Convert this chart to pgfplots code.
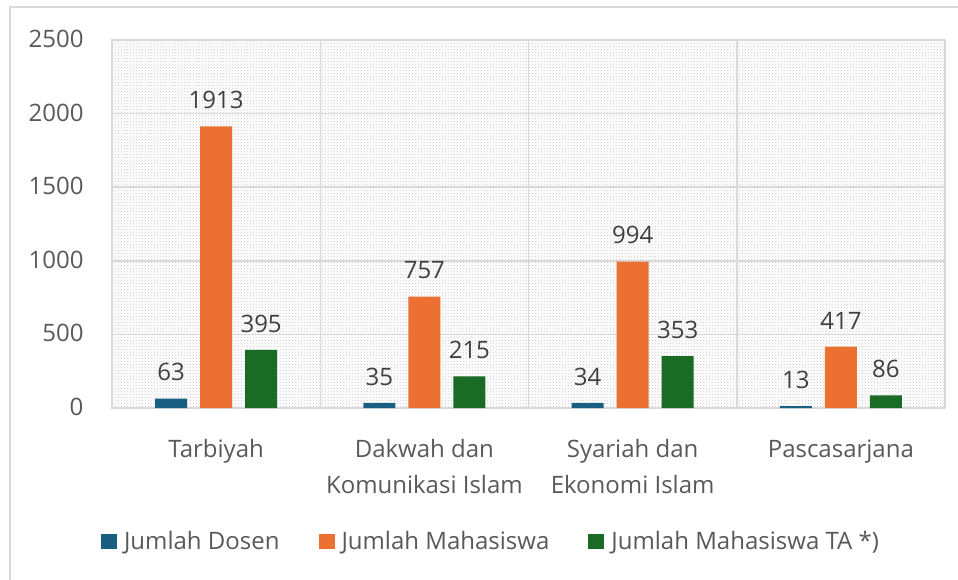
\documentclass[border=0pt]{standalone}
\usepackage{pgfplots}
\pgfplotsset{compat=1.18}
\usepackage{fontspec}
\setmainfont{Open Sans}
\usetikzlibrary{patterns}
\definecolor{cblue}{HTML}{185F82}
\definecolor{corange}{HTML}{EB7032}
\definecolor{cgreen}{HTML}{1A6B26}
\definecolor{ctxt}{HTML}{595959}
\definecolor{clab}{HTML}{404040}
\definecolor{cgrid}{HTML}{D9D9D9}
\begin{document}
\begin{tikzpicture}
\useasboundingbox (0,0) rectangle (958pt,579pt);
\draw[cgrid, line width=1.2pt] (10pt,-5pt) -- (10pt,572pt) -- (965pt,572pt);
\begin{axis}[
  at={(112pt,171pt)}, anchor=south west,
  scale only axis, width=833pt, height=368pt,
  ybar, bar width=32pt,
  ymin=0, ymax=2500, ytick={0,500,...,2500},
  xmin=-0.5, xmax=3.5,
  xtick={0,1,2,3},
  xticklabels={Tarbiyah, {Dakwah dan\\Komunikasi Islam}, {Syariah dan\\Ekonomi Islam}, Pascasarjana},
  minor xtick={0.5,1.5,2.5},
  major tick length=0pt, minor tick length=0pt,
  ymajorgrids, xminorgrids,
  grid style={cgrid, line width=1.5pt},
  minor grid style={cgrid, line width=1.5pt},
  axis line style={cgrid, line width=1.5pt},
  axis background/.style={fill=white, postaction={pattern=crosshatch dots, pattern color=black!20}},
  tick label style={font=\fontsize{24}{36}\selectfont, text=ctxt},
  /pgf/number format/assume math mode=true,
  /pgf/number format/1000 sep={},
  yticklabel style={xshift=-25pt, yshift=1pt},
  xticklabel style={align=center, anchor=north, yshift=-28pt},
  nodes near coords,
  nodes near coords style={font=\fontsize{24}{28}\selectfont, text=clab, anchor=south, yshift=14pt},
  legend columns=3,
  legend style={at={(0.455,-0.363)}, anchor=center, draw=none, fill=none,
    font=\fontsize{24}{28}\selectfont, text=ctxt,
    /tikz/every even column/.append style={column sep=37pt}},
  legend image code/.code={\fill[#1] (0pt,-7.5pt) rectangle (16pt,7.5pt); \path (21pt,0pt);},
]
\addplot[fill=cblue, draw=none, bar shift=-45pt] coordinates {(0,63) (1,35) (2,34) (3,13)};
\addplot[fill=corange, draw=none, bar shift=0pt] coordinates {(0,1913) (1,757) (2,994) (3,417)};
\addplot[fill=cgreen, draw=none, bar shift=45pt] coordinates {(0,395) (1,215) (2,353) (3,86)};
\legend{Jumlah Dosen, Jumlah Mahasiswa, Jumlah Mahasiswa TA *)}
\end{axis}
\end{tikzpicture}
\end{document}
